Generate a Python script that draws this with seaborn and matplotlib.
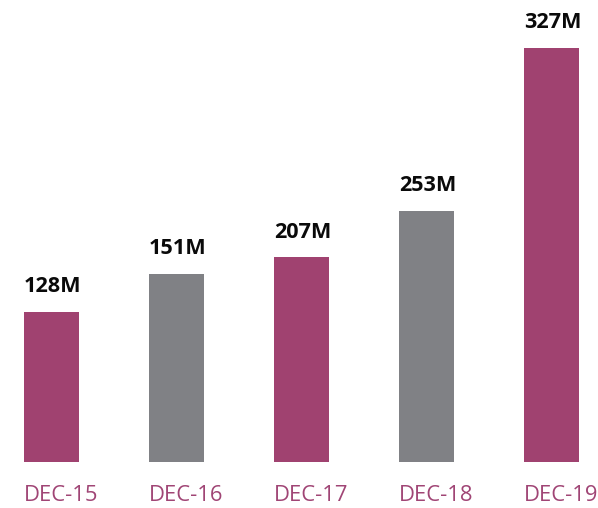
import matplotlib
matplotlib.use("Agg")
import matplotlib.pyplot as plt
import seaborn as sns
import pandas as pd

categories = ["DEC-15", "DEC-16", "DEC-17", "DEC-18", "DEC-19"]
# bar heights as drawn in the reference (relative units)
bar_heights = [149.7, 188.0, 204.7, 251.0, 414.0]
value_labels = ["128M", "151M", "207M", "253M", "327M"]
bar_colors = ["#A04270", "#808185", "#A04270", "#808185", "#A04270"]

sns.set_theme(style="white")
plt.rcParams["font.family"] = ["Open Sans", "DejaVu Sans"]

df = pd.DataFrame({"cat": categories, "h": bar_heights})

W, H = 598, 508
fig = plt.figure(figsize=(W / 100, H / 100), dpi=100)
bottom_px = 46.3
ax = fig.add_axes([0, bottom_px / H, 1, 1 - bottom_px / H])

bw = 0.436
sns.barplot(data=df, x="cat", y="h", hue="cat", palette=bar_colors,
            width=bw, legend=False, ax=ax, saturation=1, linewidth=0)

ax.set_xlim(-0.412, 4.372)
ax.set_ylim(0, H - bottom_px)

for i, (h, lab) in enumerate(zip(bar_heights, value_labels)):
    ax.text(i + 0.01, h + 19.5, lab, ha="center", va="baseline",
            fontsize=15.6, fontweight="bold", color="#0a0a0a")

for i, cat in enumerate(categories):
    ax.text(i - bw / 2 - 0.005, -39.0, cat, ha="left", va="baseline",
            fontsize=15.8, color="#A04575", clip_on=False)

ax.set_xticks([])
ax.set_yticks([])
ax.set_xlabel("")
ax.set_ylabel("")
for s in ax.spines.values():
    s.set_visible(False)

fig.savefig("out.png", dpi=100)
